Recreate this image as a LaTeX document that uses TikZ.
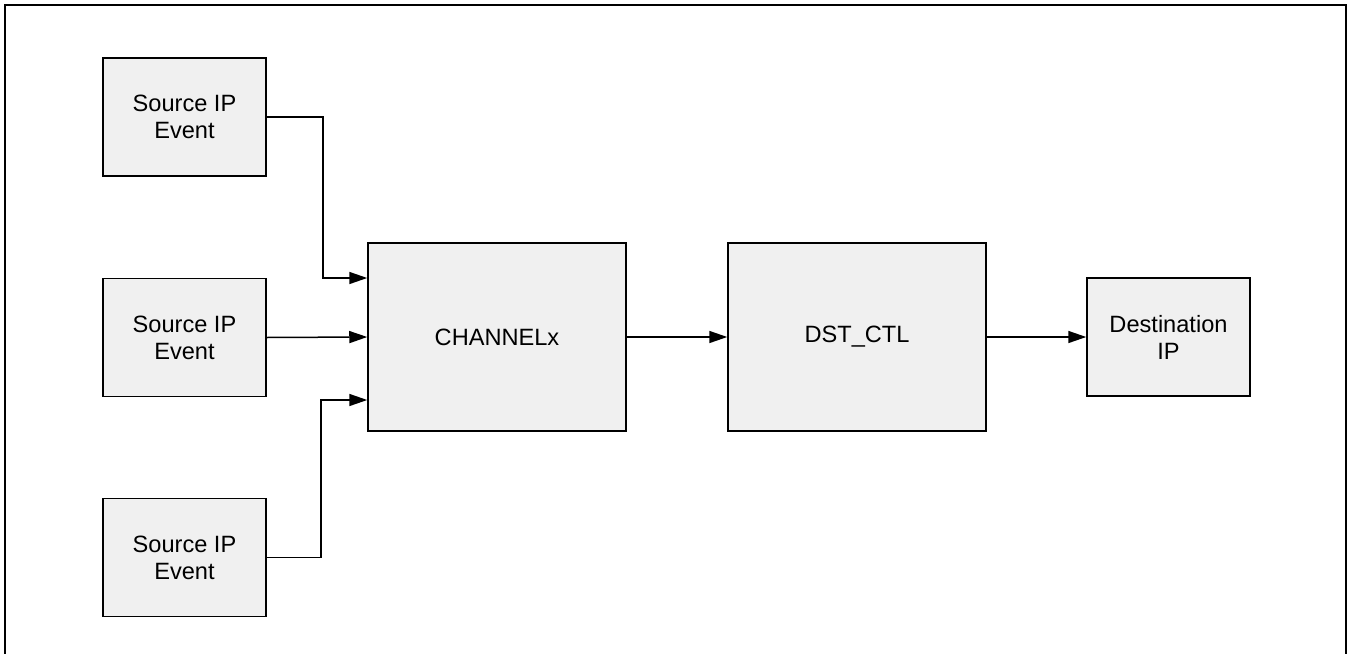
\documentclass[tikz,border=0pt]{standalone}
\usepackage{fontspec}
\setmainfont{Liberation Sans}
\usetikzlibrary{arrows.meta}
\definecolor{boxfill}{HTML}{F0F0F0}
\tikzset{
  blk/.style={draw=black, fill=boxfill, line width=1.5pt, align=center, inner sep=0pt,
    font=\fontsize{23.6}{27}\selectfont},
  arr/.style={line width=1.5pt, -{Triangle[length=18pt,width=12pt]}},
  frame/.style={line width=2.8pt}
}
\begin{document}
\begin{tikzpicture}[x=1pt,y=-1pt]
\useasboundingbox (0,0) rectangle (1354,653);
\draw[frame] (5,660) -- (5,5) -- (1346,5) -- (1346,660);
\node[blk, minimum width=163pt, minimum height=118pt] (s1) at (184.5,117) {Source IP\\Event};
\node[blk, minimum width=163pt, minimum height=118pt] (s2) at (184.5,337.5) {Source IP\\Event};
\node[blk, minimum width=163pt, minimum height=118pt] (s3) at (184.5,557.5) {Source IP\\Event};
\node[blk, minimum width=258pt, minimum height=188pt] (ch) at (497,337) {CHANNELx};
\node[blk, minimum width=258pt, minimum height=188pt] (dst) at (857,337) {DST\_CTL};
\node[blk, minimum width=163pt, minimum height=118pt] (dest) at (1168.5,337) {Destination\\IP};
\draw[arr] (s1.east) -- ++(56,0) |- ([yshift=59pt]ch.west);
\draw[arr] (s2.east) -- (ch.west);
\draw[arr] (s3.east) -- ++(54,0) |- ([yshift=-63pt]ch.west);
\draw[arr] (ch.east) -- (dst.west);
\draw[arr] (dst.east) -- (dest.west);
\end{tikzpicture}
\end{document}
